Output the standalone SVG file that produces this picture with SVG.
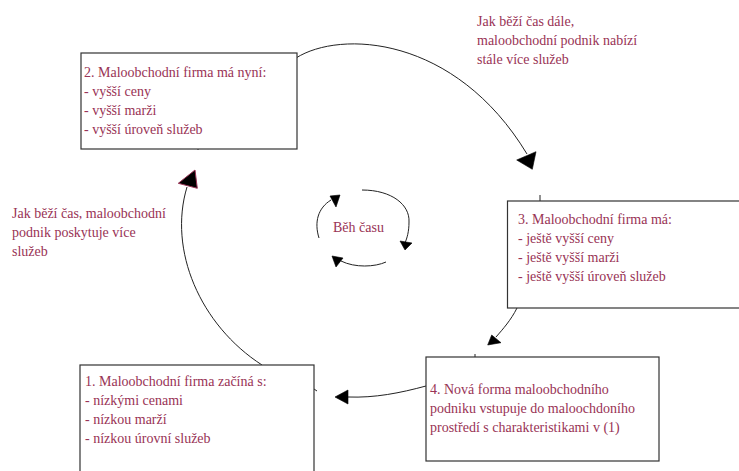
<svg xmlns="http://www.w3.org/2000/svg" width="739" height="471" viewBox="0 0 739 471">
<style>
.box{fill:#fff;stroke:#333;stroke-width:1.2}
.t{font-family:"Liberation Serif","Times New Roman",serif;font-size:14px;fill:#993355}
.ln{fill:none;stroke:#222;stroke-width:1}
.ah{fill:#000;stroke:#000;stroke-width:0.6}
.ahr{fill:#000;stroke:#993355;stroke-width:1}
</style>
<rect width="739" height="471" fill="#fff"/>
<g id="connectors">
<path class="ln" d="M296,58 C340,30 455,35 527,154"/>
<polygon class="ah" points="516.7,160 536,151.7 532.3,169.3"/>
<path class="ln" d="M262,365 C200,325 168,250 187,187"/>
<polygon class="ahr" points="178.3,183.3 195,170 197.3,188.3"/>
<path class="ln" d="M517,308 C511,320 503,329 496,337"/>
<polygon class="ah" points="487.7,345 491.7,335 501,342.7"/>
<path class="ln" d="M426,386 C400,393 375,398 348,397"/>
<polygon class="ah" points="335,397 348,390 348,404"/>
<line class="ln" x1="540" y1="195" x2="540" y2="201"/>
<line class="ln" x1="475" y1="354" x2="475" y2="357"/>
<line class="ln" x1="198" y1="147" x2="198" y2="150"/>
<line class="ln" x1="314" y1="389" x2="317" y2="391"/>
</g>
<g id="cycle">
<path class="ln" d="M362,190 C392,190 410,205 409,222 C409,232 407,238 405,243"/>
<polygon class="ah" points="400,241 412,243 405,250"/>
<path class="ln" d="M386,262 C375,267 355,268 341,261"/>
<polygon class="ah" points="332,256 343,258 336,267"/>
<path class="ln" d="M319,238 C314,222 318,208 331,200"/>
<polygon class="ah" points="330,196 340,195 336,207"/>
<text class="t" x="333" y="232">Běh času</text>
</g>
<g id="label-top">
<text class="t" x="477" y="26">Jak běží čas dále,</text>
<text class="t" x="477" y="45">maloobchodní podnik nabízí</text>
<text class="t" x="477" y="64">stále více služeb</text>
</g>
<g id="label-left">
<text class="t" x="12" y="218">Jak běží čas, maloobchodní</text>
<text class="t" x="12" y="237">podnik poskytuje více</text>
<text class="t" x="12" y="256">služeb</text>
</g>
<g id="node2">
<rect class="box" x="81" y="53" width="216" height="96"/>
<text class="t" x="84" y="76.5">2. Maloobchodní firma má nyní:</text>
<text class="t" x="84" y="95.5">- vyšší ceny</text>
<text class="t" x="84" y="114.5">- vyšší marži</text>
<text class="t" x="84" y="133.5">- vyšší úroveň služeb</text>
</g>
<g id="node3">
<rect class="box" x="507.5" y="201" width="240" height="107"/>
<text class="t" x="518" y="224">3. Maloobchodní firma má:</text>
<text class="t" x="518" y="243">- ještě vyšší ceny</text>
<text class="t" x="518" y="262">- ještě vyšší marži</text>
<text class="t" x="518" y="281">- ještě vyšší úroveň služeb</text>
</g>
<g id="node4">
<rect class="box" x="426" y="357" width="233" height="104"/>
<text class="t" x="430" y="394">4. Nová forma maloobchodního</text>
<text class="t" x="430" y="413">podniku vstupuje do maloochdoního</text>
<text class="t" x="430" y="432">prostředí s charakteristikami v (1)</text>
</g>
<g id="node1">
<rect class="box" x="80" y="365" width="234" height="120"/>
<text class="t" x="85" y="386">1. Maloobchodní firma začíná s:</text>
<text class="t" x="85" y="405">- nízkými cenami</text>
<text class="t" x="85" y="424">- nízkou marží</text>
<text class="t" x="85" y="443">- nízkou úrovní služeb</text>
</g>
</svg>
